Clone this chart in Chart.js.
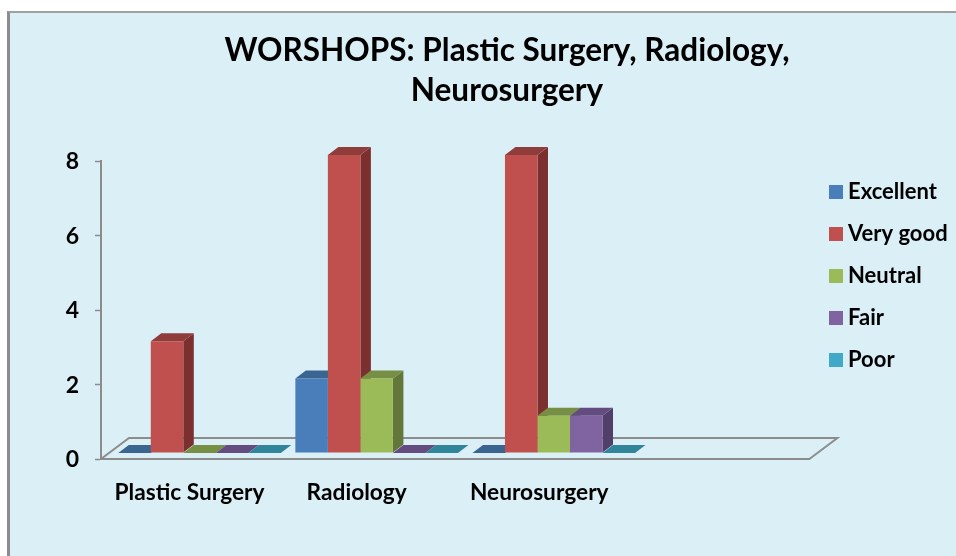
<!DOCTYPE html>
<html>
<head>
<meta charset="utf-8">
<title>Worshops</title>
<script src="https://cdn.jsdelivr.net/npm/chart.js@4"></script>
<style>
    html, body { margin: 0; padding: 0; background: #fff; overflow: hidden; }
    #panel {
        position: absolute; left: 7px; top: 11px; width: 949px; height: 545px;
        box-sizing: border-box; background: #dbeff6;
        border-left: 3px solid #8c8c8c; border-top: 2px solid #a0a0a0;
    }
    #wrap { position: absolute; left: 0; top: 0; width: 956px; height: 556px; }
</style>
</head>
<body>
<div id="panel"></div>
<div id="wrap"><canvas id="chart"></canvas></div>
<script>
// Data
const categories = ['Plastic Surgery', 'Radiology', 'Neurosurgery', ''];
const excellent = [0, 2, 0];
const veryGood = [3, 8, 8];
const neutral = [0, 2, 1];
const fair = [0, 0, 1];
const poor = [0, 0, 0];
const yTicks = [0, 2, 4, 6, 8];
const titleLines = ['WORSHOPS: Plastic Surgery, Radiology,', 'Neurosurgery'];

// Colors: front, top, side
const palette = {
    excellent: ['#4a7ebb', '#3b6591', '#30527a'],
    veryGood: ['#c0504d', '#8f3d3b', '#7c2f2f'],
    neutral: ['#9bbb59', '#778f45', '#63773a'],
    fair: ['#8064a2', '#644c80', '#523f69'],
    poor: ['#41a9c8', '#31859b', '#2a7286']
};

const FONT = 'Lato, Carlito, "Open Sans", sans-serif';
const AXIS_GRAY = '#8c8c8c';

// Fake 3D: bars stand a bit behind the axis corner, depth goes up and right
const BAR_SHIFT = { x: 10, y: -6 };
const DEPTH = { x: 10.5, y: -8 };
const FLOOR = { x: 28, y: -21 };
const LABEL_SHIFT = [0, -10, -4.5, 0];
const LEGEND_POS = { left: 815, top: 161 };

const bar3d = {
    id: 'bar3d',
    afterLayout(chart) {
        // legend sits lower than the layout would put it
        chart.legend.left = LEGEND_POS.left;
        chart.legend.top = LEGEND_POS.top;
    },
    beforeDraw(chart) {
        // nudge the category labels like in the original
        const items = chart.scales.x.getLabelItems(chart.chartArea);
        if (items.nudged) return;
        items.forEach((item, i) => {
            item.options.translation[0] += LABEL_SHIFT[i] || 0;
        });
        items.nudged = true;
    },
    beforeDatasetsDraw(chart) {
        const { ctx, chartArea: a } = chart;
        // floor plate
        ctx.save();
        ctx.strokeStyle = AXIS_GRAY;
        ctx.lineWidth = 2;
        ctx.beginPath();
        ctx.moveTo(a.left, a.bottom);
        ctx.lineTo(a.left + FLOOR.x, a.bottom + FLOOR.y);
        ctx.lineTo(a.right + FLOOR.x, a.bottom + FLOOR.y);
        ctx.lineTo(a.right, a.bottom);
        ctx.stroke();
        ctx.restore();

        // sides and tops first, left to right, the library then paints the fronts over them
        ctx.save();
        ctx.translate(BAR_SHIFT.x, BAR_SHIFT.y);
        chart.data.datasets.forEach((ds, i) => {
            chart.getDatasetMeta(i).data.forEach(bar => {
                const { x, y, base, width } = bar.getProps(['x', 'y', 'base', 'width'], true);
                const l = x - width / 2;
                const r = x + width / 2;
                ctx.fillStyle = ds.sideColor;
                ctx.beginPath();
                ctx.moveTo(r, y);
                ctx.lineTo(r + DEPTH.x, y + DEPTH.y);
                ctx.lineTo(r + DEPTH.x, base + DEPTH.y);
                ctx.lineTo(r, base);
                ctx.closePath();
                ctx.fill();
                ctx.fillStyle = ds.topColor;
                ctx.beginPath();
                ctx.moveTo(l, y);
                ctx.lineTo(l + DEPTH.x, y + DEPTH.y);
                ctx.lineTo(r + DEPTH.x, y + DEPTH.y);
                ctx.lineTo(r, y);
                ctx.closePath();
                ctx.fill();
            });
        });
    },
    afterDatasetsDraw(chart) {
        chart.ctx.restore();
    }
};

function makeSeries(label, data, colors) {
    return {
        label,
        data,
        backgroundColor: colors[0],
        topColor: colors[1],
        sideColor: colors[2],
        borderWidth: 0,
        clip: false
    };
}

new Chart(document.getElementById('chart').getContext('2d'), {
    type: 'bar',
    data: {
        labels: categories,
        datasets: [
            makeSeries('Excellent', excellent, palette.excellent),
            makeSeries('Very good', veryGood, palette.veryGood),
            makeSeries('Neutral', neutral, palette.neutral),
            makeSeries('Fair', fair, palette.fair),
            makeSeries('Poor', poor, palette.poor)
        ]
    },
    plugins: [bar3d],
    options: {
        responsive: true,
        maintainAspectRatio: false,
        animation: false,
        layout: { padding: { left: 62, right: 4, top: 31, bottom: 0 } },
        datasets: { bar: { categoryPercentage: 0.918, barPercentage: 1 } },
        plugins: {
            tooltip: { enabled: false },
            title: {
                display: true,
                text: titleLines,
                color: '#000',
                font: { family: FONT, size: 31.5, weight: 'bold', lineHeight: 1.27 },
                padding: { top: 0, bottom: 50 }
            },
            legend: {
                position: 'right',
                align: 'start',
                labels: {
                    color: '#000',
                    usePointStyle: true,
                    pointStyle: 'rect',
                    boxWidth: 2,   // keeps the text close to the swatch
                    boxHeight: 14,
                    padding: 20,
                    font: { family: FONT, size: 22, weight: 'bold' }
                }
            }
        },
        scales: {
            x: {
                afterFit(scale) { scale.height = 97; },
                grid: { drawOnChartArea: false, drawTicks: false },
                border: { color: AXIS_GRAY, width: 2 },
                ticks: {
                    color: '#000',
                    padding: 20,
                    autoSkip: false,
                    maxRotation: 0,
                    font: { family: FONT, size: 22.7, weight: 'bold' }
                }
            },
            y: {
                min: yTicks[0],
                max: yTicks[yTicks.length - 1],
                afterFit(scale) { scale.width = 39; },
                afterBuildTicks(scale) { scale.ticks = yTicks.map(value => ({ value })); },
                grid: { drawOnChartArea: false, tickLength: 6, color: AXIS_GRAY, tickWidth: 1.5 },
                border: { color: AXIS_GRAY, width: 2 },
                ticks: {
                    color: '#000',
                    padding: 16,
                    labelOffset: 1,
                    font: { family: FONT, size: 23, weight: 'bold' }
                }
            }
        }
    }
});
</script>
</body>
</html>
